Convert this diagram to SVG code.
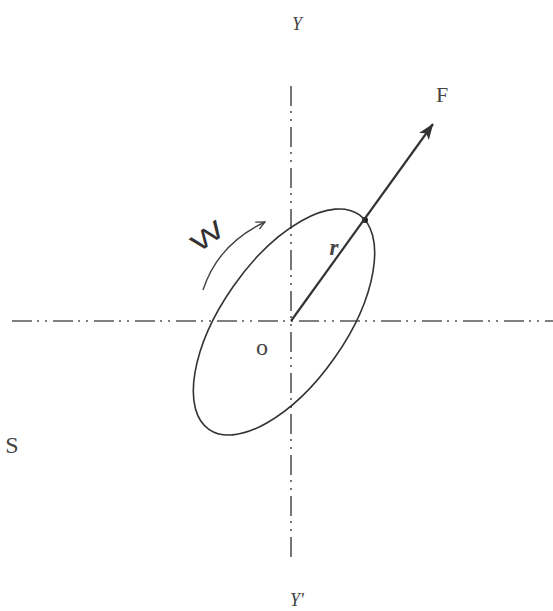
<svg xmlns="http://www.w3.org/2000/svg" width="553" height="611" viewBox="0 0 553 611">
<style>
.axis{stroke:#555;stroke-width:1.6;fill:none;stroke-dasharray:20 5 2 6 2 6}
.lbl{font-family:"Liberation Serif","DejaVu Serif",serif;fill:#444}
</style>
<defs>
<marker id="ah" viewBox="0 0 16 12" refX="15.5" refY="6" markerWidth="16" markerHeight="12" orient="auto" markerUnits="userSpaceOnUse">
<path d="M0,0 L16,6 L0,12 L4,6 z" fill="#333"/>
</marker>
<marker id="oh" viewBox="0 0 10 10" refX="9" refY="5" markerWidth="10" markerHeight="10" orient="auto" markerUnits="userSpaceOnUse">
<path d="M0,1 L9,5 L1,9" fill="none" stroke="#444" stroke-width="1.3"/>
</marker>
</defs>
<rect width="553" height="611" fill="#fff"/>
<g id="axes">
<line class="axis" x1="12" y1="321" x2="553" y2="321"/>
<line class="axis" x1="291" y1="86" x2="291" y2="558"/>
</g>
<g id="body">
<ellipse cx="284" cy="322" rx="131" ry="62" transform="rotate(-55 284 322)" fill="none" stroke="#333" stroke-width="1.6"/>
<circle cx="365" cy="220" r="3" fill="#222"/>
</g>
<g id="connectors">
<line x1="291" y1="321" x2="433" y2="124" stroke="#333" stroke-width="2.2" marker-end="url(#ah)"/>
<path d="M203,290 Q218,244 265,222" fill="none" stroke="#444" stroke-width="1.4" marker-end="url(#oh)"/>
</g>
<g id="labels">
<text class="lbl" x="297" y="30" font-size="18" font-style="italic" text-anchor="middle">Y</text>
<text class="lbl" x="297" y="606" font-size="18" font-style="italic" text-anchor="middle">Y'</text>
<text class="lbl" x="442" y="102" font-size="22" text-anchor="middle">F</text>
<text class="lbl" x="262" y="355" font-size="24" text-anchor="middle">o</text>
<text class="lbl" x="334" y="255" font-size="23" font-style="italic" font-weight="bold" text-anchor="middle">r</text>
<text class="lbl" x="12" y="453" font-size="24" text-anchor="middle">S</text>
<text x="207" y="245" font-family="Liberation Sans, sans-serif" font-size="25" fill="#333" text-anchor="middle" transform="rotate(-36 207 236)" textLength="34" lengthAdjust="spacingAndGlyphs">W</text>
</g>
</svg>
